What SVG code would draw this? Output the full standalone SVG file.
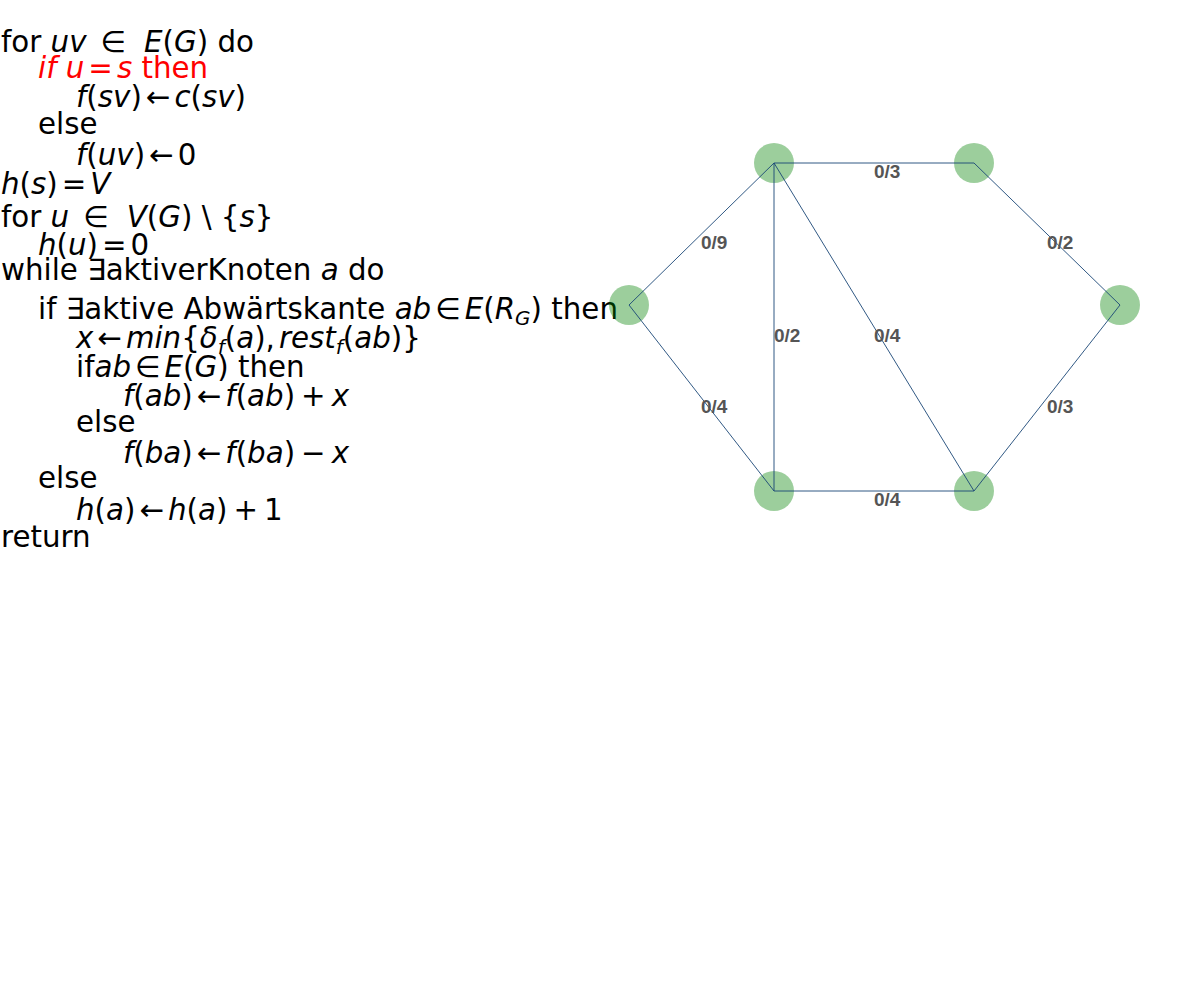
<svg xmlns="http://www.w3.org/2000/svg" width="1200" height="1000" viewBox="0 0 1200 1000">
<style>
.code{font-family:"DejaVu Sans",sans-serif;font-size:29.3px;fill:#000}
.i{font-style:italic}
.red{fill:#ff0000}
.sub{font-size:20px}
.edge{stroke:#1a4676;stroke-width:0.9;fill:none}
.node{fill:#008000;fill-opacity:0.39}
.lbl{font-family:"Liberation Sans",Arial,sans-serif;font-size:19px;font-weight:bold;fill:#555555}
</style>
<rect width="1200" height="1000" fill="#ffffff"/>
<g id="code" class="code">
<text x="1" y="52">for <tspan class="i">uv</tspan><tspan dx="14">∈</tspan><tspan class="i" dx="18">E</tspan>(<tspan class="i">G</tspan>) do</text>
<text x="38" y="78" class="red"><tspan class="i">if u</tspan><tspan dx="4">=</tspan><tspan class="i" dx="4">s</tspan> then</text>
<text x="76" y="107"><tspan class="i">f</tspan>(<tspan class="i">sv</tspan>)<tspan dx="4">←</tspan><tspan class="i" dx="4">c</tspan>(<tspan class="i">sv</tspan>)</text>
<text x="38" y="134">else</text>
<text x="76" y="165"><tspan class="i">f</tspan>(<tspan class="i">uv</tspan>)<tspan dx="4">←</tspan><tspan dx="4">0</tspan></text>
<text x="1" y="194"><tspan class="i">h</tspan>(<tspan class="i">s</tspan>)<tspan dx="4">=</tspan><tspan class="i" dx="4">V</tspan></text>
<text x="1" y="227">for <tspan class="i">u</tspan><tspan dx="14">∈</tspan><tspan class="i" dx="18">V</tspan>(<tspan class="i">G</tspan>) \ {<tspan class="i">s</tspan>}</text>
<text x="38" y="255"><tspan class="i">h</tspan>(<tspan class="i">u</tspan>)<tspan dx="4">=</tspan><tspan dx="4">0</tspan></text>
<text x="1" y="280">while ∃aktiverKnoten <tspan class="i">a</tspan> do</text>
<text x="38" y="319">if ∃aktive Abwärtskante <tspan class="i">ab</tspan><tspan dx="4">∈</tspan><tspan class="i" dx="4">E</tspan>(<tspan class="i">R</tspan><tspan class="i sub" dy="6">G</tspan><tspan dy="-6">) then</tspan></text>
<text x="76" y="348"><tspan class="i">x</tspan><tspan dx="4">←</tspan><tspan class="i" dx="4">min</tspan>{<tspan class="i">δ</tspan><tspan class="i sub" dy="6">f</tspan><tspan dy="-6">(</tspan><tspan class="i">a</tspan>),<tspan class="i" dx="4">rest</tspan><tspan class="i sub" dy="6">f</tspan><tspan dy="-6">(</tspan><tspan class="i">ab</tspan>)}</text>
<text x="76" y="377">if<tspan class="i">ab</tspan><tspan dx="4">∈</tspan><tspan class="i" dx="4">E</tspan>(<tspan class="i">G</tspan>) then</text>
<text x="123" y="406"><tspan class="i">f</tspan>(<tspan class="i">ab</tspan>)<tspan dx="4">←</tspan><tspan class="i" dx="4">f</tspan>(<tspan class="i">ab</tspan>)<tspan dx="6">+</tspan><tspan class="i" dx="6">x</tspan></text>
<text x="76" y="432">else</text>
<text x="123" y="463"><tspan class="i">f</tspan>(<tspan class="i">ba</tspan>)<tspan dx="4">←</tspan><tspan class="i" dx="4">f</tspan>(<tspan class="i">ba</tspan>)<tspan dx="6">−</tspan><tspan class="i" dx="6">x</tspan></text>
<text x="38" y="488">else</text>
<text x="76" y="520"><tspan class="i">h</tspan>(<tspan class="i">a</tspan>)<tspan dx="4">←</tspan><tspan class="i" dx="4">h</tspan>(<tspan class="i">a</tspan>)<tspan dx="6">+</tspan><tspan dx="6">1</tspan></text>
<text x="1" y="547">return</text>
</g>
<g id="n1"><circle class="node" cx="629" cy="305" r="20"/></g>
<g id="n2"><circle class="node" cx="774" cy="163" r="20"/></g>
<g id="n3"><circle class="node" cx="974" cy="163" r="20"/></g>
<g id="n4"><circle class="node" cx="1120" cy="305" r="20"/></g>
<g id="n5"><circle class="node" cx="774" cy="491" r="20"/></g>
<g id="n6"><circle class="node" cx="974" cy="491" r="20"/></g>
<g id="edges">
<line class="edge" x1="629" y1="305" x2="774" y2="163"/>
<line class="edge" x1="629" y1="305" x2="774" y2="491"/>
<line class="edge" x1="774" y1="163" x2="974" y2="163"/>
<line class="edge" x1="774" y1="163" x2="774" y2="491"/>
<line class="edge" x1="774" y1="163" x2="974" y2="491"/>
<line class="edge" x1="974" y1="163" x2="1120" y2="305"/>
<line class="edge" x1="1120" y1="305" x2="974" y2="491"/>
<line class="edge" x1="774" y1="491" x2="974" y2="491"/>
</g>
<g id="edge-labels" class="lbl">
<text x="701" y="249">0/9</text>
<text x="701" y="413">0/4</text>
<text x="874" y="178">0/3</text>
<text x="774" y="342">0/2</text>
<text x="874" y="342">0/4</text>
<text x="1047" y="249">0/2</text>
<text x="1047" y="413">0/3</text>
<text x="874" y="506">0/4</text>
</g>
</svg>
